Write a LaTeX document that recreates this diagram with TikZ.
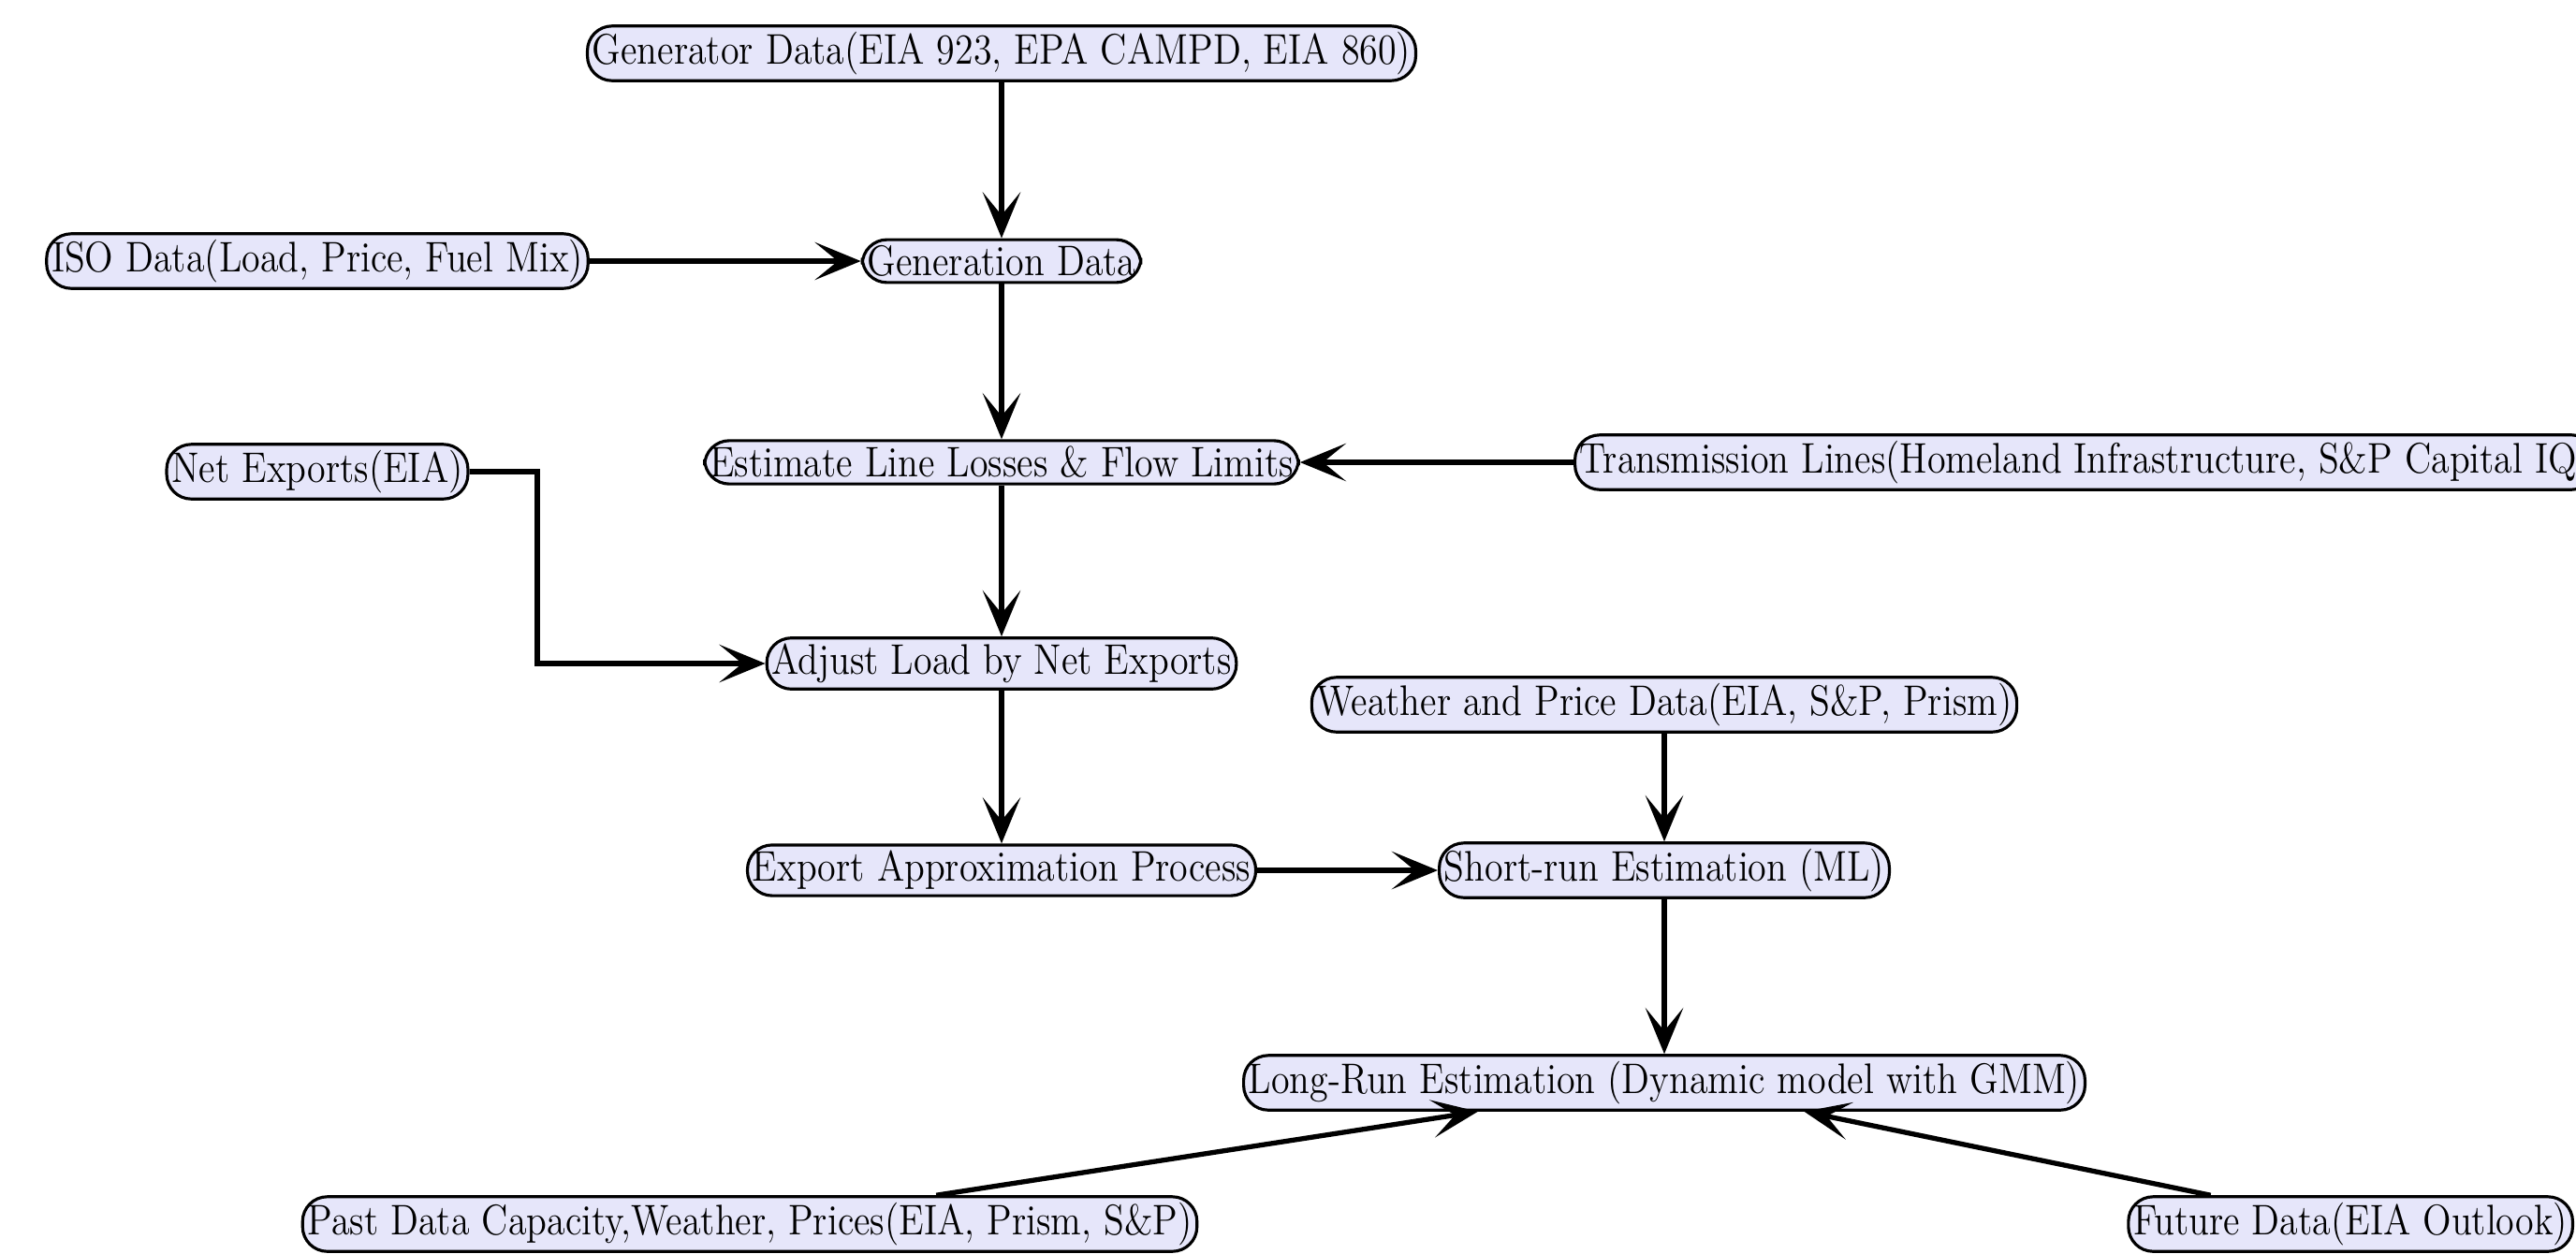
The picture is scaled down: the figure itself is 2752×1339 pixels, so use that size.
\documentclass[tikz,border=0pt]{standalone}
\usepackage{graphicx}
\usetikzlibrary{arrows.meta,calc}
\definecolor{lav}{RGB}{230,230,250}
\newcommand\nt[1]{\scalebox{0.875}[1]{#1}}
\begin{document}
\begin{tikzpicture}[x=0.01cm,y=-0.01cm,
  box/.style={rectangle, rounded corners=7.5pt, draw=black, line width=0.9pt, fill=lav,
    inner xsep=1.5pt, inner ysep=1.8pt, font=\fontsize{13pt}{15pt}\selectfont},
  arr/.style={-{Stealth[length=14pt,width=11.5pt,inset=7pt]}, line width=1.5pt}]
\useasboundingbox (0,0) rectangle (2752,1339);
\node[box] (gen) at (1070,57) {\nt{Generator Data(EIA 923, EPA CAMPD, EIA 860)}};
\node[box] (iso) at (339,279) {\nt{ISO Data(Load, Price, Fuel Mix)}};
\node[box] (gdata) at (1070,279) {\nt{Generation Data}};
\node[box] (est) at (1070,494) {\nt{Estimate Line Losses \& Flow Limits}};
\node[box, anchor=west] (trans) at (1681,494) {\nt{Transmission Lines(Homeland Infrastructure, S\&P Capital IQ)}};
\node[box] (net) at (339,504) {\nt{Net Exports(EIA)}};
\node[box] (adj) at (1070,709) {\nt{Adjust Load by Net Exports}};
\node[box] (wea) at (1778,753) {\nt{Weather and Price Data(EIA, S\&P, Prism)}};
\node[box] (exp) at (1070,930) {\nt{Export Approximation Process}};
\node[box] (short) at (1778,930) {\nt{Short-run Estimation (ML)}};
\node[box] (long) at (1778,1157) {\nt{Long-Run Estimation (Dynamic model with GMM)}};
\node[box] (past) at (801,1308) {\nt{Past Data Capacity,Weather, Prices(EIA, Prism, S\&P)}};
\node[box, anchor=east] (fut) at (2750,1308) {\nt{Future Data(EIA Outlook)}};
\coordinate (bx) at (574,0);
\draw[arr] (gen) -- (gdata);
\draw[arr] (iso) -- (gdata);
\draw[arr] (gdata) -- (est);
\draw[arr] (trans.west) -- (est.east);
\draw[arr] (est) -- (adj);
\draw[arr] (net.east) -- (net.east -| bx) |- (adj.west);
\draw[arr] (adj) -- (exp);
\draw[arr] (exp) -- (short);
\draw[arr] (wea) -- (short);
\draw[arr] (short) -- (long);
\draw[arr] (past) -- (long);
\draw[arr] (fut) -- (long);
\end{tikzpicture}
\end{document}
